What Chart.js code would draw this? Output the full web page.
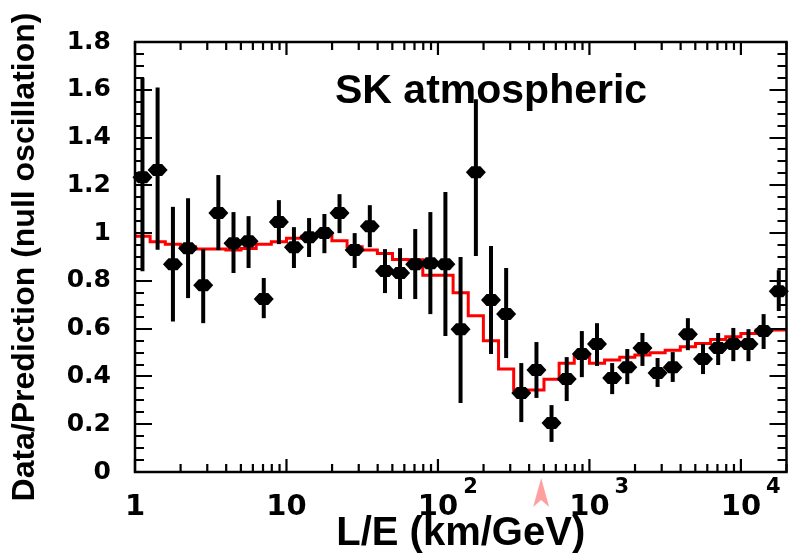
<!DOCTYPE html>
<html><head><meta charset="utf-8">
<script src="https://cdn.jsdelivr.net/npm/chart.js@4.4.1/dist/chart.umd.min.js"></script>
<style>html,body{margin:0;padding:0;background:#fff;}#wrap{width:792px;height:558px;}</style>
</head><body><div id="wrap"><canvas id="c" width="792" height="558"></canvas></div>
<script>
// ---- data ----
const binCenters = [1.12, 1.41, 1.78, 2.24, 2.82, 3.55, 4.47, 5.62, 7.08, 8.91,
  11.2, 14.1, 17.8, 22.4, 28.2, 35.5, 44.7, 56.2, 70.8, 89.1,
  112, 141, 178, 224, 282, 355, 447, 562, 708, 891,
  1122, 1413, 1778, 2239, 2818, 3548, 4467, 5623, 7079, 8913,
  11220, 14125, 17783];
const ratio = [1.234, 1.264, 0.870, 0.937, 0.782, 1.084, 0.958, 0.966, 0.724, 1.046,
  0.941, 0.983, 1.000, 1.084, 0.929, 1.029, 0.841, 0.833, 0.870, 0.874,
  0.870, 0.598, 1.255, 0.720, 0.661, 0.331, 0.427, 0.205, 0.389, 0.494,
  0.536, 0.393, 0.439, 0.519, 0.414, 0.439, 0.577, 0.473, 0.519, 0.536,
  0.536, 0.590, 0.757];
const errLow = [0.84, 0.93, 0.63, 0.728, 0.623, 0.929, 0.833, 0.854, 0.644, 0.954,
  0.854, 0.900, 0.916, 1.000, 0.854, 0.941, 0.749, 0.724, 0.724, 0.661,
  0.569, 0.289, 0.904, 0.494, 0.477, 0.209, 0.310, 0.126, 0.297, 0.397,
  0.444, 0.326, 0.368, 0.444, 0.356, 0.377, 0.510, 0.410, 0.448, 0.464,
  0.464, 0.515, 0.674];
const errHigh = [1.65, 1.61, 1.11, 1.146, 0.933, 1.243, 1.088, 1.071, 0.812, 1.138,
  1.025, 1.063, 1.080, 1.163, 1.000, 1.117, 0.933, 0.937, 1.017, 1.088,
  1.172, 0.900, 1.560, 0.946, 0.854, 0.456, 0.544, 0.280, 0.481, 0.590,
  0.623, 0.456, 0.515, 0.582, 0.477, 0.502, 0.644, 0.536, 0.582, 0.603,
  0.598, 0.661, 0.845];
const binEdges = [1, 1.259, 1.585, 1.995, 2.512, 3.162, 3.981, 5.012, 6.310, 7.943,
  10, 12.59, 15.85, 19.95, 25.12, 31.62, 39.81, 50.12, 63.10, 79.43,
  100, 125.9, 158.5, 199.5, 251.2, 316.2, 398.1, 501.2, 631.0, 794.3,
  1000, 1259, 1585, 1995, 2512, 3162, 3981, 5012, 6310, 7943,
  10000, 12589, 15849, 19953];
const prediction = [0.997, 0.987, 0.964, 0.953, 0.943, 0.933, 0.933, 0.929, 0.936, 0.953,
  0.964, 0.978, 0.987, 0.999, 0.968, 0.943, 0.929, 0.915, 0.890, 0.889,
  0.824, 0.824, 0.750, 0.654, 0.549, 0.431, 0.343, 0.343, 0.388, 0.455,
  0.483, 0.455, 0.469, 0.480, 0.490, 0.499, 0.510, 0.524, 0.538, 0.555,
  0.566, 0.580, 0.594];
const yTickValues = [0, 0.2, 0.4, 0.6, 0.8, 1, 1.2, 1.4, 1.6, 1.8];
const yTickLabels = ['0', '0.2', '0.4', '0.6', '0.8', '1', '1.2', '1.4', '1.6', '1.8'];
const xTickValues = [1, 10, 100, 1000, 10000];
const xTickBase = ['1', '10', '10', '10', '10'];
const xTickExp = ['', '', '2', '3', '4'];
const arrowAt = 480;
const plotLabel = 'SK atmospheric';
const xTitle = 'L/E (km/GeV)';
const yTitle = 'Data/Prediction (null oscillation)';

// ---- build datasets ----
const predData = binEdges.map((e, i) => ({x: e, y: prediction[Math.min(i, prediction.length - 1)]}));
const pointData = binCenters.map((c, i) => ({x: c, y: ratio[i]}));

const deco = {
  id: 'deco',
  afterDatasetsDraw(chart) {
    const {ctx, scales: {x, y}} = chart;
    ctx.save();
    ctx.strokeStyle = '#000';
    ctx.fillStyle = '#000';
    for (let i = 0; i < binCenters.length; i++) {
      const px = x.getPixelForValue(binCenters[i]);
      const py = y.getPixelForValue(ratio[i]);
      ctx.lineWidth = 4;
      ctx.beginPath();
      ctx.moveTo(px, y.getPixelForValue(errLow[i]));
      ctx.lineTo(px, y.getPixelForValue(errHigh[i]));
      ctx.stroke();
      ctx.beginPath();
      ctx.moveTo(px - 10, py);
      ctx.lineTo(px - 4.5, py - 6);
      ctx.lineTo(px + 4.5, py - 6);
      ctx.lineTo(px + 10, py);
      ctx.lineTo(px + 4.5, py + 6);
      ctx.lineTo(px - 4.5, py + 6);
      ctx.closePath();
      ctx.fill();
    }
    ctx.restore();
  },
  afterDraw(chart) {
    const {ctx, chartArea: a, scales: {x, y}} = chart;
    ctx.save();
    ctx.strokeStyle = '#000';
    ctx.fillStyle = '#000';
    // inward ticks, y
    ctx.lineWidth = 2.2;
    for (let v = 0; v <= 1.8001; v += 0.05) {
      const py = Math.round(y.getPixelForValue(v));
      const major = Math.abs(v / 0.2 - Math.round(v / 0.2)) < 1e-6;
      const len = major ? 17 : 9;
      ctx.beginPath();
      ctx.moveTo(a.left, py); ctx.lineTo(a.left + len, py);
      ctx.moveTo(a.right, py); ctx.lineTo(a.right - len, py);
      ctx.stroke();
    }
    // inward ticks, x (log)
    for (let d = 0; d <= 4; d++) {
      for (let m = 1; m <= 9; m++) {
        const v = m * Math.pow(10, d);
        if (v > x.max) break;
        const px = x.getPixelForValue(v);
        const len = m === 1 ? 13 : 8;
        ctx.beginPath();
        ctx.moveTo(px, a.bottom); ctx.lineTo(px, a.bottom - len);
        ctx.moveTo(px, a.top); ctx.lineTo(px, a.top + len);
        ctx.stroke();
      }
    }
    // frame
    ctx.lineWidth = 2.5;
    ctx.strokeRect(a.left, a.top, a.right - a.left, a.bottom - a.top);
    // x tick labels with exponents
    for (let i = 0; i < xTickValues.length; i++) {
      const px = x.getPixelForValue(xTickValues[i]);
      ctx.font = 'bold 29px "DejaVu Sans"';
      ctx.textAlign = 'center';
      ctx.textBaseline = 'alphabetic';
      ctx.fillText(xTickBase[i], px, a.bottom + 43);
      if (xTickExp[i]) {
        const w = ctx.measureText(xTickBase[i]).width;
        ctx.font = 'bold 21px "DejaVu Sans"';
        ctx.textAlign = 'left';
        ctx.fillText(xTickExp[i], px + w / 2 + 5, a.bottom + 21);
      }
    }
    // arrow marker
    const ax = x.getPixelForValue(arrowAt);
    ctx.fillStyle = '#ffa0a0';
    ctx.beginPath();
    ctx.moveTo(ax, a.bottom + 6);
    ctx.lineTo(ax + 8, a.bottom + 35);
    ctx.lineTo(ax, a.bottom + 28);
    ctx.lineTo(ax - 8, a.bottom + 35);
    ctx.closePath();
    ctx.fill();
    // in-plot label
    ctx.fillStyle = '#000';
    ctx.font = 'bold 41px "Liberation Sans"';
    ctx.textAlign = 'left';
    ctx.textBaseline = 'alphabetic';
    ctx.fillText(plotLabel, a.left + 200, a.top + 61);
    ctx.restore();
  }
};

new Chart(document.getElementById('c'), {
  type: 'scatter',
  data: {
    datasets: [
      {
        type: 'scatter',
        data: pointData,
        pointStyle: 'circle',
        pointRadius: 5.5,
        pointBackgroundColor: '#000',
        pointBorderColor: '#000',
        pointBorderWidth: 0,
        showLine: false
      },
      {
        type: 'line',
        data: predData,
        stepped: 'after',
        borderColor: '#ff0000',
        borderWidth: 3,
        pointRadius: 0,
        fill: false
      }
    ]
  },
  options: {
    responsive: false,
    animation: false,
    devicePixelRatio: 1,
    layout: {padding: {top: 42, right: 3, left: 0, bottom: 0}},
    plugins: {legend: {display: false}, tooltip: {enabled: false}},
    scales: {
      x: {
        type: 'logarithmic',
        min: 1, max: 20000,
        bounds: 'data',
        grid: {display: false, drawTicks: false},
        border: {display: false},
        ticks: {display: false},
        afterFit(s) { s.height = 86; },
        title: {display: true, text: xTitle, color: '#000',
          font: {family: 'Liberation Sans', weight: 'bold', size: 40}, padding: {top: 0, bottom: 0}}
      },
      y: {
        type: 'linear',
        min: 0, max: 1.8,
        grid: {display: false, drawTicks: false, tickLength: 0},
        border: {display: false},
        afterBuildTicks(s) { s.ticks = yTickValues.map(v => ({value: v})); },
        ticks: {
          color: '#000',
          padding: 24,
          autoSkip: false,
          font: {family: 'DejaVu Sans', weight: 'bold', size: 25},
          callback: (v, i) => yTickLabels[i]
        },
        afterFit(s) { s.width = 135; },
        title: {display: true, text: yTitle, color: '#000',
          font: {family: 'Liberation Sans', weight: 'bold', size: 32}, padding: {top: 6, bottom: 0}}
      }
    }
  },
  plugins: [deco]
});
</script></body></html>
